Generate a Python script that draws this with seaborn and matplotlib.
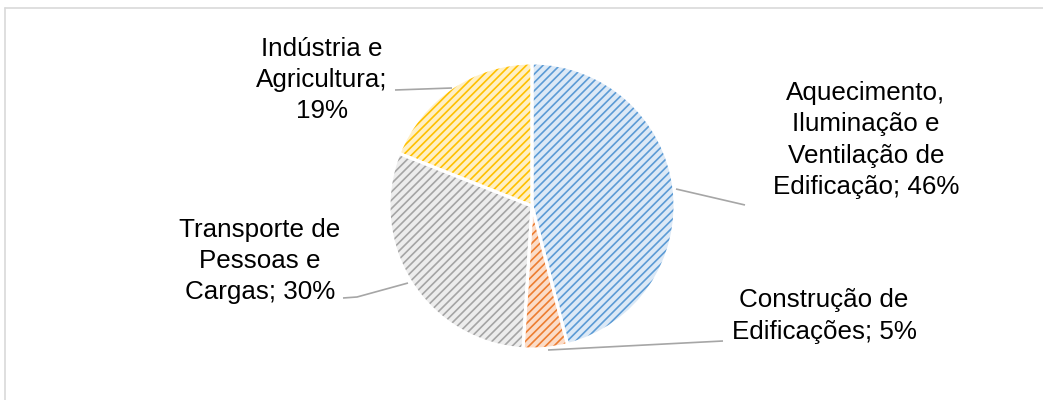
import matplotlib
matplotlib.use("Agg")
import matplotlib.pyplot as plt
from matplotlib.lines import Line2D
import seaborn as sns

# ---- data ----
categories = ["Aquecimento, Iluminação e Ventilação de Edificação",
              "Construção de Edificações",
              "Transporte de Pessoas e Cargas",
              "Indústria e Agricultura"]
label_texts = ["Aquecimento,\nIluminação e\nVentilação de\nEdificação; 46%",
               "Construção de\nEdificações; 5%",
               "Transporte de\nPessoas e\nCargas; 30%",
               "Indústria e\nAgricultura;\n19%"]
values = [46, 5, 30, 19]
hatch_colors = ["#5B9BD5", "#ED7D31", "#A5A5A5", "#FFC000"]
fill_colors = ["#DCE9F6", "#FBDCC8", "#EDEDED", "#FFF0C4"]

sns.set_theme(style="white")
plt.rcParams['font.family'] = ['Liberation Sans', 'DejaVu Sans']
plt.rcParams['hatch.linewidth'] = 1.2

W, H = 1043, 400
fig = plt.figure(figsize=(W / 100, H / 100), dpi=100)
ax = fig.add_axes([0, 0, 1, 1])

cx, cy, r = 532, H - 206, 143
explode = [0.015, 0.01, 0, 0]

wedges, _ = ax.pie(values, startangle=90, counterclock=False, radius=r,
                   center=(cx, cy), colors=fill_colors, explode=explode,
                   wedgeprops=dict(linewidth=0))
for w, hc in zip(wedges, hatch_colors):
    w.set_hatch("////")
    w.set_edgecolor(hc)
    w.set_linewidth(0)

# white separating edges
ax.pie(values, startangle=90, counterclock=False, radius=r,
       center=(cx, cy), colors=["none"] * 4, explode=explode,
       wedgeprops=dict(linewidth=2.2, edgecolor="white", fill=False))

ax.set_xlim(0, W)
ax.set_ylim(0, H)
ax.set_aspect("auto")
ax.axis("off")

# labels
label_pos = [(866, 140), (824, 316), (260, 261), (322, 80)]
for txt, (x, y) in zip(label_texts, label_pos):
    ax.text(x, H - y, txt, ha="center", va="center",
            fontsize=18.7, color="#000000", linespacing=1.38)

# leader lines
leaders = [
    [(676, 189), (745, 205)],
    [(548, 350), (723, 341)],
    [(343, 298), (357, 297), (408, 283)],
    [(395, 90), (452, 88)],
]
for pts in leaders:
    xs = [p[0] for p in pts]
    ys = [H - p[1] for p in pts]
    ax.plot(xs, ys, color="#A6A6A6", linewidth=1.2, solid_capstyle="butt")

# outer frame
fig.add_artist(Line2D([4.5 / W, 4.5 / W], [0, 1 - 8 / H], color="#D9D9D9",
                      linewidth=1.2, transform=fig.transFigure))
fig.add_artist(Line2D([4.5 / W, 1], [1 - 8 / H, 1 - 8 / H], color="#D9D9D9",
                      linewidth=1.2, transform=fig.transFigure))

fig.savefig("out.png", dpi=100, facecolor="white")
